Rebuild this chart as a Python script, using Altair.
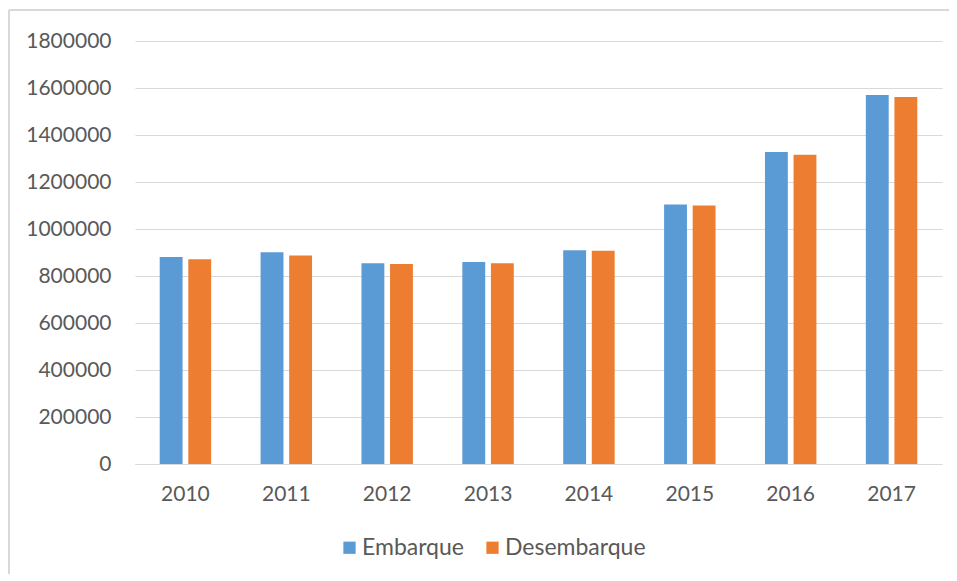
import altair as alt
import pandas as pd

years = ["2010", "2011", "2012", "2013", "2014", "2015", "2016", "2017"]
embarque = [881000, 901000, 854000, 860000, 910000, 1104000, 1328000, 1570000]
desembarque = [871000, 887000, 851000, 854000, 907000, 1100000, 1316000, 1562000]
series = ["Embarque", "Desembarque"]
y_ticks = [0, 200000, 400000, 600000, 800000, 1000000, 1200000, 1400000, 1600000, 1800000]

rows = []
for i, yr in enumerate(years):
    rows.append({"year": yr, "serie": series[0], "value": embarque[i]})
    rows.append({"year": yr, "serie": series[1], "value": desembarque[i]})
df = pd.DataFrame(rows)

FONT = "Lato"
TXT = "#595959"
GRID = "#D9D9D9"

bars = alt.Chart(df).mark_bar().encode(
    x=alt.X("year:N", sort=years, title=None,
            scale=alt.Scale(paddingInner=0.49, paddingOuter=0.245),
            axis=alt.Axis(labelAngle=0, ticks=False, domainColor=GRID, domainWidth=1,
                          labelPadding=19, labelFontSize=21, labelColor=TXT, labelFont=FONT)),
    xOffset=alt.XOffset("serie:N", sort=series, scale=alt.Scale(paddingInner=0.2, paddingOuter=0)),
    y=alt.Y("value:Q", title=None,
            scale=alt.Scale(domain=[0, 1800000], nice=False),
            axis=alt.Axis(values=y_ticks, format="d", domain=False, ticks=False,
                          gridColor=GRID, gridWidth=1, labelPadding=24,
                          labelFontSize=21, labelColor=TXT, labelFont=FONT)),
    color=alt.Color("serie:N", sort=series,
                    scale=alt.Scale(domain=series, range=["#5B9BD5", "#ED7D31"]),
                    legend=alt.Legend(title=None, orient="none", direction="horizontal",
                                      legendX=203, legendY=495, symbolType="square",
                                      symbolSize=150, symbolStrokeWidth=0,
                                      labelFontSize=23, labelColor=TXT, labelFont=FONT,
                                      columnPadding=17, labelOffset=1)),
)

top_border = alt.Chart(df).mark_rule(color=GRID, strokeWidth=1.5).encode(
    x=alt.value(-126), x2=alt.value(900), y=alt.value(-31)
)
left_border = alt.Chart(df).mark_rule(color=GRID, strokeWidth=1.5).encode(
    x=alt.value(-126), y=alt.value(-31), y2=alt.value(560)
)

chart = alt.layer(bars, top_border, left_border).properties(
    width=807, height=423,
    padding={"left": 127, "top": 33, "right": 7, "bottom": 110},
    autosize=alt.AutoSizeParams(type="none"),
).configure_view(stroke=None)

chart.save("out.html", embed_options={"renderer": "svg", "actions": False})
